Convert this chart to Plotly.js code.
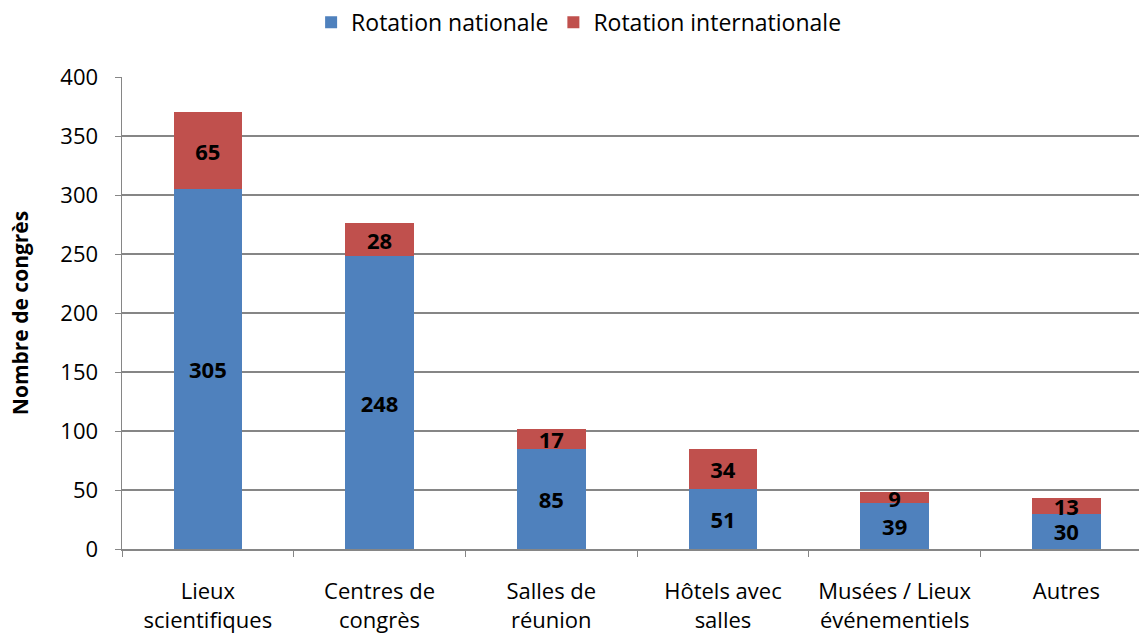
<!DOCTYPE html>
<html><head><meta charset="utf-8">
<script src="https://cdn.plot.ly/plotly-3.0.1.min.js"></script>
<style>html,body{margin:0;padding:0;background:#fff;}#chart{width:1139px;height:635px;}</style>
</head><body><div id="chart"></div>
<script>
const categories = ["Lieux<br>scientifiques", "Centres de<br>congrès", "Salles de<br>réunion", "Hôtels avec<br>salles", "Musées / Lieux<br>événementiels", "Autres"];
const nationale = [305, 248, 85, 51, 39, 30];
const internationale = [65, 28, 17, 34, 9, 13];
const seriesNames = ["Rotation nationale", "Rotation internationale"];
const yTicks = [0, 50, 100, 150, 200, 250, 300, 350, 400];

const FONT = "Open Sans, sans-serif";
const common = {
  type: "bar", x: categories, width: 0.4,
  textposition: "inside", insidetextanchor: "middle", constraintext: "none", textangle: 0,
  texttemplate: "%{y}", cliponaxis: false,
  textfont: {family: FONT, size: 22, color: "#000", weight: "bold"},
  hoverinfo: "skip"
};
const traces = [
  Object.assign({}, common, {y: nationale, name: seriesNames[0], marker: {color: "#4F81BD"}}),
  Object.assign({}, common, {y: internationale, name: seriesNames[1], marker: {color: "#C0504D"}})
];
const layout = {
  width: 1139, height: 635,
  margin: {l: 122, r: 0, t: 77, b: 86, autoexpand: false},
  barmode: "stack",
  paper_bgcolor: "#fff", plot_bgcolor: "#fff",
  font: {family: FONT, size: 22, color: "#000"},
  showlegend: true,
  legend: {orientation: "h", traceorder: "normal", x: 0.508, xref: "container", xanchor: "center",
           y: 0.965, yref: "container", yanchor: "middle",
           font: {family: FONT, size: 23, color: "#000"}, itemwidth: 30},
  xaxis: {
    type: "category", range: [-0.5, 5.423], showgrid: false,
    showline: true, linecolor: "#868686", linewidth: 1.5,
    ticks: "outside", tickson: "boundaries", ticklen: 6, tickcolor: "#868686",
    ticklabelstandoff: 22, tickfont: {family: FONT, size: 22, color: "#000"}, fixedrange: true
  },
  yaxis: {
    range: [0, 400], tickvals: yTicks, showgrid: true, gridcolor: "#868686", gridwidth: 1.2,
    showline: true, linecolor: "#868686", linewidth: 1.5,
    ticks: "outside", ticklen: 6, tickcolor: "#868686", zeroline: false,
    ticklabelstandoff: 12,
    tickfont: {family: FONT, size: 22, color: "#000"},
    title: {text: "Nombre de congrès", font: {family: FONT, size: 21, color: "#000", weight: "bold"}, standoff: 26}
  }
};
Plotly.newPlot("chart", traces, layout, {displayModeBar: false, staticPlot: true});
</script></body></html>
